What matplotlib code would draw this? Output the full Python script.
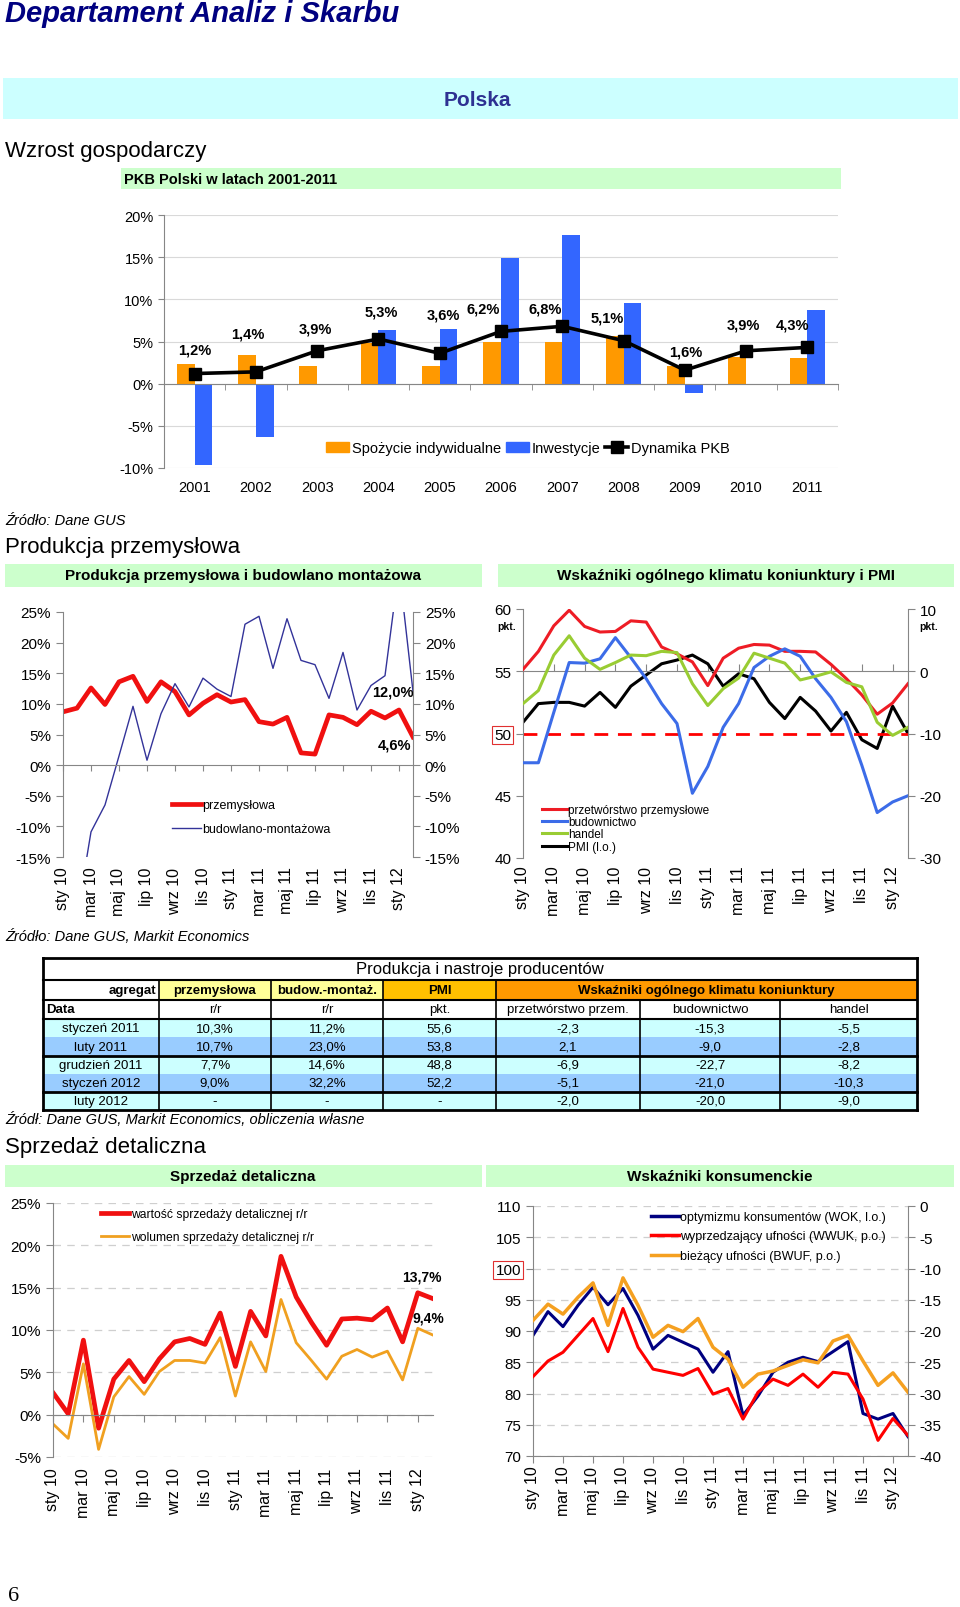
import matplotlib
matplotlib.use('Agg')
import matplotlib.pyplot as plt
from matplotlib.lines import Line2D
from matplotlib.patches import Rectangle, Patch
from matplotlib.ticker import FuncFormatter
import numpy as np

plt.rcParams['font.family'] = ['Liberation Sans', 'DejaVu Sans']
plt.rcParams['axes.unicode_minus'] = False

# --- PKB Polski 2001-2011 ---
years = ['2001', '2002', '2003', '2004', '2005', '2006', '2007', '2008', '2009', '2010', '2011']
consumption = [2.3, 3.4, 2.1, 4.8, 2.1, 5.0, 4.9, 5.7, 2.1, 3.2, 3.1]
investment = [-9.7, -6.3, -0.1, 6.4, 6.5, 14.9, 17.6, 9.6, -1.1, -0.2, 8.7]
gdp = [1.2, 1.4, 3.9, 5.3, 3.6, 6.2, 6.8, 5.1, 1.6, 3.9, 4.3]
gdp_labels = ['1,2%', '1,4%', '3,9%', '5,3%', '3,6%', '6,2%', '6,8%', '5,1%', '1,6%', '3,9%', '4,3%']

# --- miesiace sty 10 - lut 12 ---
month_labels = ['sty 10', 'mar 10', 'maj 10', 'lip 10', 'wrz 10', 'lis 10',
                'sty 11', 'mar 11', 'maj 11', 'lip 11', 'wrz 11', 'lis 11', 'sty 12']

# produkcja (r/r, %)
industrial = [8.7, 9.3, 12.6, 9.9, 13.6, 14.5, 10.4, 13.6, 12.0, 8.2, 10.1, 11.5, 10.3,
              10.7, 7.1, 6.7, 7.8, 2.0, 1.8, 8.2, 7.8, 6.6, 8.8, 7.7, 9.0, 4.6]
construction = [-15.9, -24.7, -10.9, -6.5, 1.5, 9.6, 0.8, 8.4, 13.3, 9.5, 14.2, 12.4, 11.2,
                23.0, 24.3, 15.8, 23.9, 17.1, 16.4, 10.9, 18.4, 9.0, 13.0, 14.6, 32.2, 12.0]

# koniunktura i PMI
pmi = [50.9, 52.4, 52.5, 52.5, 52.2, 53.3, 52.1, 53.8, 54.7, 55.6, 55.9, 56.3, 55.6,
       53.8, 54.8, 54.4, 52.5, 51.2, 52.9, 51.8, 50.2, 51.7, 49.5, 48.8, 52.2, 50.0]
manuf = [0.3, 3.2, 7.3, 9.8, 7.2, 6.3, 6.4, 8.1, 7.9, 3.9, 2.8, 1.5, -2.3,
         2.1, 3.7, 4.3, 4.2, 3.2, 3.2, 3.1, 1.1, -1.2, -3.8, -6.9, -5.1, -2.0]
constr_climate = [-14.7, -14.7, -6.6, 1.4, 1.3, 2.0, 5.4, 2.2, -1.2, -5.2, -8.4, -19.6, -15.3,
                  -9.0, -5.2, 0.6, 2.4, 3.6, 2.4, -1.2, -4.2, -8.1, -15.1, -22.7, -21.0, -20.0]
trade = [-5.2, -3.1, 2.6, 5.7, 2.1, 0.3, 1.4, 2.6, 2.5, 3.2, 3.0, -2.0, -5.5,
         -2.8, -1.1, 2.9, 2.1, 1.3, -1.4, -0.8, -0.1, -1.8, -2.5, -8.2, -10.3, -9.0]

# sprzedaz detaliczna (r/r, %)
retail_value = [2.6, 0.1, 8.8, -1.6, 4.2, 6.4, 3.9, 6.6, 8.6, 9.0, 8.3, 12.0, 5.7,
                12.2, 9.3, 18.7, 13.9, 10.9, 8.2, 11.3, 11.4, 11.2, 12.6, 8.6, 14.4, 13.7]
retail_volume = [-1.1, -2.8, 6.0, -4.1, 2.1, 4.5, 2.4, 5.1, 6.4, 6.4, 6.1, 9.1, 2.2,
                 8.6, 5.1, 13.6, 8.5, 6.4, 4.2, 6.9, 7.7, 6.8, 7.5, 4.1, 10.2, 9.4]

# wskazniki konsumenckie
wok = [89.3, 93.1, 90.7, 94.1, 97.0, 94.2, 96.8, 92.5, 87.1, 89.3, 88.2, 87.1, 83.4,
       86.7, 76.5, 79.6, 83.4, 85.0, 85.8, 85.1, 86.7, 88.3, 76.8, 75.9, 76.8, 73.1]
wwuk = [-27.3, -24.8, -23.4, -20.7, -18.0, -23.3, -16.4, -22.6, -26.1, -26.6, -27.1, -26.0, -30.1,
        -29.2, -34.1, -29.8, -27.7, -28.7, -26.9, -29.0, -26.6, -26.9, -30.9, -37.5, -34.0, -36.7]
bwuf = [-18.3, -15.7, -17.3, -14.6, -12.3, -19.1, -11.5, -15.9, -21.0, -19.1, -20.1, -18.0, -22.6,
        -24.5, -29.0, -26.9, -26.4, -25.5, -24.6, -25.1, -21.6, -20.7, -24.8, -28.7, -26.7, -29.8]

# tabela
tab_dates = ['styczeń 2011', 'luty 2011', 'grudzień 2011', 'styczeń 2012', 'luty 2012']
tab_ind = ['10,3%', '10,7%', '7,7%', '9,0%', '-']
tab_con = ['11,2%', '23,0%', '14,6%', '32,2%', '-']
tab_pmi = ['55,6', '53,8', '48,8', '52,2', '-']
tab_manuf = ['-2,3', '2,1', '-6,9', '-5,1', '-2,0']
tab_constr = ['-15,3', '-9,0', '-22,7', '-21,0', '-20,0']
tab_trade = ['-5,5', '-2,8', '-8,2', '-10,3', '-9,0']

W, H = 960, 1608
GRAY = '#868686'
pct = FuncFormatter(lambda v, p: f'{v:.0f}%')
xm = np.arange(len(industrial))

fig = plt.figure(figsize=(W / 100, H / 100), dpi=100)


def box(x0, y0, x1, y1):
    return [x0 / W, 1 - y1 / H, (x1 - x0) / W, (y1 - y0) / H]


def txt(x, y, s, **kw):
    kw.setdefault('va', 'center')
    fig.text(x / W, 1 - y / H, s, **kw)


def rect(x0, y0, x1, y1, color):
    fig.add_artist(Rectangle((x0 / W, 1 - y1 / H), (x1 - x0) / W, (y1 - y0) / H,
                             transform=fig.transFigure, facecolor=color, edgecolor='none', zorder=0))


def seg(x0, y0, x1, y1, lw=1.0):
    fig.add_artist(Line2D([x0 / W, x1 / W], [1 - y0 / H, 1 - y1 / H],
                          transform=fig.transFigure, color='black', lw=lw))


def month_axis(ax, pad, direction='out', length=4):
    ax.set_xlim(0, len(xm) - 1)
    ax.set_xticks(xm[::2])
    ax.set_xticklabels(month_labels, rotation=90, fontsize=11.5)
    ax.tick_params(axis='x', colors=GRAY, labelcolor='black', direction=direction,
                   length=length, pad=pad)


def gray_axes(ax):
    for s in ax.spines.values():
        s.set_color(GRAY)
    ax.tick_params(axis='y', colors=GRAY, labelcolor='black', length=5, labelsize=11)


# ---------------- naglowki ----------------
txt(5, 14, 'Departament Analiz i Skarbu', fontsize=21, fontweight='bold', style='italic', color='#000080')
rect(3, 79, 958, 120, '#CCFFFF')
txt(477, 100, 'Polska', fontsize=15, fontweight='bold', color='#2E3192', ha='center')
txt(5, 151, 'Wzrost gospodarczy', fontsize=16)
rect(121, 169, 841, 190, '#CCFFCC')
txt(124, 179.5, 'PKB Polski w latach 2001-2011', fontsize=10.5, fontweight='bold')

# ---------------- wykres PKB ----------------
ax = fig.add_axes(box(164, 216, 838, 469))
x = np.arange(len(years))
bw = 0.29
ax.bar(x - bw / 2, consumption, bw, color='#FF9900', zorder=2)
ax.bar(x + bw / 2, investment, bw, color='#3366FF', zorder=2)
ax.plot(x, gdp, color='black', lw=2.6, marker='s', ms=8, zorder=4)
gdp_offsets = [(0, 24), (-8, 38), (-2, 22), (3, 27), (4, 39), (-18, 23),
               (-17, 18), (-16, 23), (1, 19), (-3, 26), (-15, 23)]
for xi, v, lab, off in zip(x, gdp, gdp_labels, gdp_offsets):
    ax.annotate(lab, (xi, v), xytext=off, textcoords='offset pixels', ha='center', va='center',
                fontsize=10.5, fontweight='bold')
ax.set_xlim(-0.5, len(years) - 0.5)
ax.set_ylim(-10, 20)
ax.set_yticks(range(-10, 21, 5))
ax.yaxis.set_major_formatter(pct)
ax.yaxis.grid(True, color='#D9D9D9', lw=0.8)
ax.set_axisbelow(True)
for s in ['top', 'right']:
    ax.spines[s].set_visible(False)
ax.spines['left'].set_color(GRAY)
ax.spines['bottom'].set_color(GRAY)
ax.spines['bottom'].set_position(('data', 0))
ax.set_xticks(x)
ax.set_xticklabels(years)
ax.set_xticks(np.arange(-0.5, len(years), 1), minor=True)
ax.tick_params(axis='x', which='major', length=0, pad=69, labelsize=10.5)
ax.tick_params(axis='x', which='minor', length=4, color=GRAY)
ax.tick_params(axis='y', colors=GRAY, labelcolor='black', length=4, labelsize=10.5)
handles = [Patch(color='#FF9900'), Patch(color='#3366FF'),
           Line2D([], [], color='black', lw=2.6, marker='s', ms=8)]
fig.legend(handles, ['Spożycie indywidualne', 'Inwestycje', 'Dynamika PKB'], loc='center',
           bbox_to_anchor=(528 / W, 1 - 449 / H), ncol=3, frameon=False, fontsize=10.5,
           handlelength=1.6, handletextpad=0.2, columnspacing=0.3)

txt(5, 521, 'Źródło: Dane GUS', fontsize=10.5, style='italic')
txt(5, 548, 'Produkcja przemysłowa', fontsize=16)
rect(5, 565, 482, 588, '#CCFFCC')
rect(498, 565, 954, 588, '#CCFFCC')
txt(243, 576, 'Produkcja przemysłowa i budowlano montażowa', fontsize=11, fontweight='bold', ha='center')
txt(726, 576, 'Wskaźniki ogólnego klimatu koniunktury i PMI', fontsize=11, fontweight='bold', ha='center')

# ---------------- produkcja przemyslowa ----------------
ax2 = fig.add_axes(box(63, 613, 413, 858))
ax2.plot(xm, industrial, color='#F01010', lw=3.4, label='przemysłowa')
ax2.plot(xm, construction, color='#333399', lw=1.0, label='budowlano-montażowa')
ax2.set_ylim(-15, 25)
ax2.set_yticks(range(-15, 26, 5))
ax2.yaxis.set_major_formatter(pct)
gray_axes(ax2)
ax2.spines['top'].set_visible(False)
ax2.spines['right'].set_visible(False)
ax2.spines['bottom'].set_position(('data', 0))
month_axis(ax2, pad=69)
ax2r = ax2.twinx()
ax2r.set_ylim(-15, 25)
ax2r.set_yticks(range(-15, 26, 5))
ax2r.yaxis.set_major_formatter(pct)
gray_axes(ax2r)
for s in ['top', 'bottom', 'left']:
    ax2r.spines[s].set_visible(False)
ax2.annotate('12,0%', (xm[-1], construction[-1]), xytext=(-20, 0), textcoords='offset pixels',
             ha='center', va='center', fontsize=10.5, fontweight='bold')
ax2.annotate('4,6%', (xm[-1], industrial[-1]), xytext=(-19, -8), textcoords='offset pixels',
             ha='center', va='center', fontsize=10.5, fontweight='bold')
ax2r.legend(ax2.get_lines(), ['przemysłowa', 'budowlano-montażowa'], loc='upper left',
            bbox_to_anchor=(172 / W, 1 - 800 / H), bbox_transform=fig.transFigure, frameon=False,
            fontsize=9, handlelength=2.3, handletextpad=0.15, labelspacing=0.95,
            borderpad=0, borderaxespad=0)

# ---------------- koniunktura i PMI ----------------
ax3 = fig.add_axes(box(523, 610, 908, 859))
ax3.plot(xm, pmi, color='black', lw=2.2)
ax3.axhline(50, color='#FF0000', lw=2, ls=(0, (5, 3.5)))
ax3.set_ylim(40, 60)
ax3.set_yticks(range(40, 61, 5))
labs = ax3.set_yticklabels([str(v) for v in range(40, 61, 5)])
labs[2].set_bbox(dict(facecolor='white', edgecolor='#E03030', pad=1.5, lw=0.8))
gray_axes(ax3)
ax3.spines['top'].set_visible(False)
ax3.spines['right'].set_visible(False)
ax3.spines['bottom'].set_position(('data', 55))
month_axis(ax3, pad=140, direction='in', length=5)
ax3r = ax3.twinx()
ax3r.plot(xm, manuf, color='#EE1C25', lw=2.2)
ax3r.plot(xm, constr_climate, color='#3C6CE8', lw=2.2)
ax3r.plot(xm, trade, color='#99CC33', lw=2.2)
ax3r.set_ylim(-30, 10)
ax3r.set_yticks(range(-30, 11, 10))
gray_axes(ax3r)
for s in ['top', 'bottom', 'left']:
    ax3r.spines[s].set_visible(False)
txt(507, 627, 'pkt.', fontsize=7.5, fontweight='bold', ha='center')
txt(929, 627, 'pkt.', fontsize=7.5, fontweight='bold', ha='center')
h3 = [Line2D([], [], color=c, lw=2.2) for c in ['#EE1C25', '#3C6CE8', '#99CC33', 'black']]
ax3r.legend(h3, ['przetwórstwo przemysłowe', 'budownictwo', 'handel', 'PMI (l.o.)'],
            loc='upper left', bbox_to_anchor=(542 / W, 1 - 805 / H), bbox_transform=fig.transFigure,
            frameon=False, fontsize=8.5, handlelength=2.1, handletextpad=0.1, labelspacing=0.02,
            borderpad=0, borderaxespad=0)

txt(5, 937, 'Źródło: Dane GUS, Markit Economics', fontsize=10.5, style='italic')

# ---------------- tabela ----------------
cols = [43, 159, 271, 383, 496, 640, 780, 917]
rows = [959, 981, 1001, 1020, 1038, 1057, 1075, 1093, 1111]
rect(cols[1], rows[1], cols[3], rows[2], '#FFFF99')
rect(cols[3], rows[1], cols[4], rows[2], '#FFC000')
rect(cols[4], rows[1], cols[7], rows[2], '#FF9900')
row_bg = ['#CCFFFF', '#99CCFF', '#CCFFFF', '#99CCFF', '#CCFFFF']
for i, c in enumerate(row_bg):
    rect(cols[0], rows[3 + i], cols[7], rows[4 + i], c)
txt((cols[0] + cols[7]) / 2, (rows[0] + rows[1]) / 2, 'Produkcja i nastroje producentów',
    fontsize=12, ha='center')
hdr = [('przemysłowa', 1, 2), ('budow.-montaż.', 2, 3), ('PMI', 3, 4),
       ('Wskaźniki ogólnego klimatu koniunktury', 4, 7)]
ym = (rows[1] + rows[2]) / 2
txt(cols[1] - 3, ym, 'agregat', fontsize=9.5, fontweight='bold', ha='right')
for s, a, b in hdr:
    txt((cols[a] + cols[b]) / 2, ym, s, fontsize=9.5, fontweight='bold', ha='center')
ym = (rows[2] + rows[3]) / 2
txt(cols[0] + 3, ym, 'Data', fontsize=9.5, fontweight='bold')
for j, s in enumerate(['r/r', 'r/r', 'pkt.', 'przetwórstwo przem.', 'budownictwo', 'handel']):
    txt((cols[j + 1] + cols[j + 2]) / 2, ym, s, fontsize=9.5, ha='center')
for i, rowvals in enumerate(zip(tab_dates, tab_ind, tab_con, tab_pmi, tab_manuf, tab_constr, tab_trade)):
    ym = (rows[3 + i] + rows[4 + i]) / 2
    for j, s in enumerate(rowvals):
        txt((cols[j] + cols[j + 1]) / 2, ym, s, fontsize=9.5, ha='center')
# linie tabeli
seg(cols[0], rows[0], cols[7], rows[0], 2)
seg(cols[0], rows[-1], cols[7], rows[-1], 2)
seg(cols[0], rows[0], cols[0], rows[-1], 2)
seg(cols[7], rows[0], cols[7], rows[-1], 2)
for r in [rows[1], rows[2], rows[3]]:
    seg(cols[0], r, cols[7], r, 1.5)
for r in [rows[5], rows[7]]:
    seg(cols[0], r, cols[7], r, 2)
for c in cols[1:5]:
    seg(c, rows[1], c, rows[-1], 1.2)
for c in cols[5:7]:
    seg(c, rows[2], c, rows[-1], 1.2)

txt(5, 1120, 'Źródł: Dane GUS, Markit Economics, obliczenia własne', fontsize=10.5, style='italic')
txt(5, 1147, 'Sprzedaż detaliczna', fontsize=16)
rect(5, 1166, 482, 1188, '#CCFFCC')
rect(486, 1166, 954, 1188, '#CCFFCC')
txt(243, 1177, 'Sprzedaż detaliczna', fontsize=11, fontweight='bold', ha='center')
txt(720, 1177, 'Wskaźniki konsumenckie', fontsize=11, fontweight='bold', ha='center')

# ---------------- sprzedaz detaliczna ----------------
ax5 = fig.add_axes(box(53, 1204, 433, 1458))
ax5.plot(xm, retail_value, color='#F01010', lw=3.4)
ax5.plot(xm, retail_volume, color='#F0A020', lw=2.0)
ax5.set_ylim(-5, 25)
ax5.set_yticks(range(-5, 26, 5))
ax5.yaxis.set_major_formatter(pct)
ax5.yaxis.grid(True, color='#CFCFCF', lw=0.9, ls=(0, (6, 5)))
ax5.set_axisbelow(True)
gray_axes(ax5)
ax5.spines['top'].set_visible(False)
ax5.spines['right'].set_visible(False)
ax5.spines['bottom'].set_position(('data', 0))
month_axis(ax5, pad=33, length=5)
ax5.tick_params(axis='y', labelsize=11)
ax5.annotate('13,7%', (xm[-1], retail_value[-1]), xytext=(-11, 22), textcoords='offset pixels',
             ha='center', va='center', fontsize=10, fontweight='bold')
ax5.annotate('9,4%', (xm[-1], retail_volume[-1]), xytext=(-5, 18), textcoords='offset pixels',
             ha='center', va='center', fontsize=10, fontweight='bold')
ax5.legend(ax5.get_lines(), ['wartość sprzedaży detalicznej r/r', 'wolumen sprzedaży detalicznej r/r'],
           loc='upper left', bbox_to_anchor=(101 / W, 1 - 1209 / H), bbox_transform=fig.transFigure,
           frameon=False, fontsize=8.7, handlelength=2.3, handletextpad=0.15, labelspacing=0.95,
           borderpad=0, borderaxespad=0)

# ---------------- wskazniki konsumenckie ----------------
ax6 = fig.add_axes(box(533, 1207, 908, 1457))
ax6.plot(xm, wok, color='#000080', lw=2.2)
ax6.set_ylim(70, 110)
ax6.set_yticks(range(70, 111, 5))
labs = ax6.set_yticklabels([str(v) for v in range(70, 111, 5)])
labs[6].set_bbox(dict(facecolor='white', edgecolor='#E03030', pad=1.5, lw=0.8))
ax6.yaxis.grid(True, color='#CFCFCF', lw=0.9, ls=(0, (6, 5)))
ax6.set_axisbelow(True)
gray_axes(ax6)
ax6.spines['top'].set_visible(False)
ax6.spines['right'].set_visible(False)
month_axis(ax6, pad=2, length=5)
ax6r = ax6.twinx()
ax6r.plot(xm, wwuk, color='#FF0000', lw=2.2)
ax6r.plot(xm, bwuf, color='#F5A020', lw=2.5)
ax6r.set_ylim(-40, 0)
ax6r.set_yticks(range(-40, 1, 5))
gray_axes(ax6r)
for s in ['top', 'bottom', 'left']:
    ax6r.spines[s].set_visible(False)
h6 = [Line2D([], [], color='#000080', lw=2.5), Line2D([], [], color='#FF0000', lw=2.5),
      Line2D([], [], color='#F5A020', lw=2.5)]
ax6r.legend(h6, ['optymizmu konsumentów (WOK, l.o.)', 'wyprzedzający ufności (WWUK, p.o.)',
                 'bieżący ufności (BWUF, p.o.)'],
            loc='upper left', bbox_to_anchor=(651 / W, 1 - 1212 / H), bbox_transform=fig.transFigure,
            frameon=False, fontsize=9, handlelength=2.2, handletextpad=0.15, labelspacing=0.6,
            borderpad=0, borderaxespad=0)

txt(8, 1597, '6', fontsize=16, family=['Liberation Serif', 'DejaVu Serif'])

fig.savefig('out.png', dpi=100)
